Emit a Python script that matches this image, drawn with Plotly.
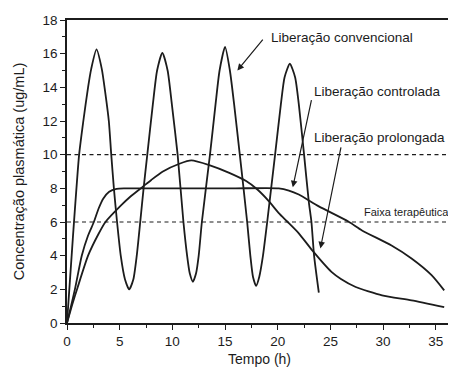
import plotly.graph_objects as go

# Liberação convencional
conv_t = [0, 0.55, 1.15, 1.55, 2.0, 2.3, 2.8, 3.3, 3.65, 3.97, 4.2, 4.45, 4.75, 5.1, 5.5, 5.9, 6.3, 6.62,
          6.95, 7.27, 7.62, 8.15, 8.55, 9.05, 9.55, 9.95, 10.5, 11.05, 11.4, 11.65, 11.95, 12.25, 12.5,
          12.8, 13.57, 14.1, 14.48, 15.0, 15.46, 15.86, 16.4, 17.1, 17.4, 17.65, 17.95, 18.25, 18.6,
          19.0, 19.75, 20.3, 20.65, 21.15, 21.65, 22.0, 22.5, 22.95, 23.2, 23.45, 23.9]
conv_c = [0, 5.0, 10, 12, 14, 15.1, 16.25, 15.1, 13.6, 12, 10, 8, 6, 4, 2.6, 2.0, 2.6, 4,
          6, 8, 10, 13, 15, 16.05, 15, 13, 10, 6, 4, 2.95, 2.45, 2.95, 4,
          6, 10, 13, 15, 16.4, 15, 13, 10, 6, 4, 2.75, 2.2, 2.75, 4,
          6, 10, 13, 14.6, 15.4, 14.6, 13, 10, 7.2, 6, 4, 1.8]

# Liberação controlada
ctrl_t = [0, 0.75, 1.4, 2.0, 2.55, 3.0, 3.45, 4.0, 4.7, 5.5, 8, 12, 16, 20.1, 21.06, 22.0, 23.9,
          26.7, 28.0, 30.8, 32.7, 34.6, 35.8]
ctrl_c = [0, 2, 4, 5.2, 6, 6.8, 7.4, 7.8, 7.97, 8.0, 8, 8, 8, 8.0, 7.87, 7.63, 6.93,
          6.03, 5.5, 4.6, 3.83, 2.84, 1.94]

# Liberação prolongada
prol_t = [0, 0.5, 1.0, 2.0, 3.0, 3.65, 5.15, 6.0, 7.2, 8.0, 9.1, 10.67, 11.8, 13.5, 15.4, 17.0,
          18.07, 19.17, 20.1, 20.9, 22.0, 23.3, 25.1, 26.0, 27.4, 29.9, 32.7, 35.8]
prol_c = [0, 1.1, 2.1, 4.0, 5.3, 6.0, 7.0, 7.5, 8.1, 8.5, 9.0, 9.46, 9.66, 9.38, 8.92, 8.43,
          7.93, 7.23, 6.53, 6.03, 5.33, 4.3, 3.04, 2.62, 2.14, 1.64, 1.34, 0.94]

# Faixa terapêutica
faixa_lim = [10, 6]
x_ticks = [0, 5, 10, 15, 20, 25, 30, 35]
y_ticks = [0, 2, 4, 6, 8, 10, 12, 14, 16, 18]

ink = "#1c1c1c"
font = "Liberation Sans, Arial, sans-serif"

fig = go.Figure()
for lim in faixa_lim:
    fig.add_trace(go.Scatter(x=[0, 36.54], y=[lim, lim], mode="lines",
                             line=dict(color=ink, width=1.2, dash="4px,3.5px"),
                             hoverinfo="skip", showlegend=False))
for t, c in [(conv_t, conv_c), (ctrl_t, ctrl_c), (prol_t, prol_c)]:
    fig.add_trace(go.Scatter(x=t, y=c, mode="lines",
                             line=dict(color=ink, width=1.8, shape="spline", smoothing=0.6),
                             showlegend=False))

labels = [
    ("Liberação convencional", 19.17, 16.98, 13.5),
    ("Liberação controlada", 23.25, 13.77, 13.5),
    ("Liberação prolongada", 23.25, 11.01, 13.5),
    ("Faixa terapêutica", 28.04, 6.58, 11),
]
for txt, x, y, s in labels:
    fig.add_annotation(x=x, y=y, text=txt, showarrow=False, xanchor="left", yanchor="middle",
                       font=dict(family=font, size=s, color=ink))

arrows = [
    (18.7, 16.92, 16.17, 15.0),
    (23.23, 13.33, 21.43, 8.06),
    (26.03, 10.52, 24.05, 4.43),
]
for ax, ay, x, y in arrows:
    fig.add_annotation(x=x, y=y, ax=ax, ay=ay, axref="x", ayref="y", text="",
                       showarrow=True, arrowhead=2, arrowsize=1.1, arrowwidth=1.2,
                       arrowcolor=ink)

# page body has an 8px margin: figure sized/offset so the plot lands where the reference has it
fig.update_layout(
    width=448, height=359,
    margin=dict(l=59, r=2, t=12, b=38),
    plot_bgcolor="white", paper_bgcolor="white",
    font=dict(family=font, size=13.5, color=ink),
    showlegend=False,
)
fig.update_xaxes(range=[0, 36.54], tickvals=x_ticks, ticks="outside", ticklen=5, tickwidth=1.3,
                 tickcolor=ink, showline=True, linecolor=ink, linewidth=1.6, mirror=True,
                 showgrid=False, zeroline=False,
                 minor=dict(dtick=2.5, tick0=0, ticks="outside", ticklen=3, tickwidth=1.1, tickcolor=ink),
                 title=dict(text="Tempo (h)", font=dict(size=14), standoff=6))
fig.update_yaxes(range=[0, 18], tickvals=y_ticks, ticks="outside", ticklen=5, tickwidth=1.3,
                 tickcolor=ink, showline=True, linecolor=ink, linewidth=1.6, mirror=True,
                 showgrid=False, zeroline=False,
                 minor=dict(dtick=1, tick0=0, ticks="outside", ticklen=3, tickwidth=1.1, tickcolor=ink),
                 title=dict(text="Concentração plasmática (ug/mL)", font=dict(size=14.5), standoff=14))

fig.write_html("out.html")
